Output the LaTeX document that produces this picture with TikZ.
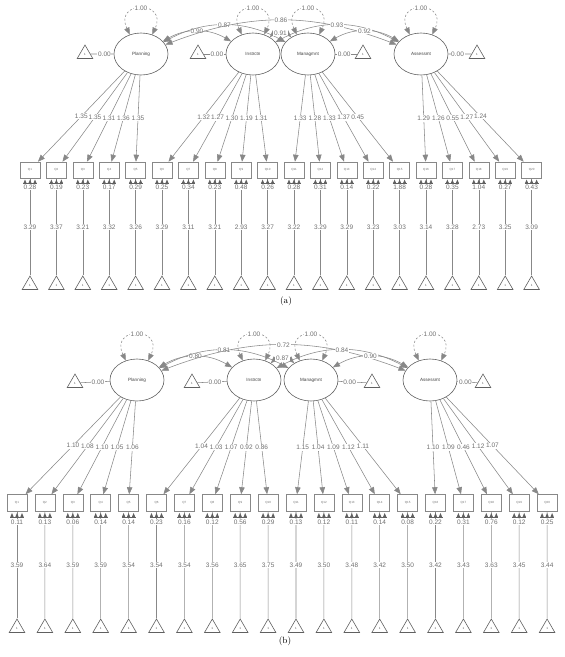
\documentclass[tikz,border=0pt]{standalone}
\usepackage{fontspec}
\newfontfamily\labfont{Liberation Sans}
\usetikzlibrary{shapes.geometric,arrows.meta}
\definecolor{ln}{HTML}{888888}
\definecolor{tx}{HTML}{707070}
\definecolor{bd}{HTML}{606060}
\tikzset{
 lat/.style={ellipse, draw=bd, line width=0.6pt, minimum width=54pt, minimum height=42pt, inner sep=0pt, text=black!75, font=\labfont\fontsize{4.6}{5}\selectfont},
 ind/.style={rectangle, draw=ln, line width=0.6pt, minimum width=20pt, minimum height=16pt, inner sep=0pt, text=tx, font=\labfont\fontsize{3}{3}\selectfont},
 one/.style={regular polygon, regular polygon sides=3, draw=bd, line width=0.6pt, minimum size=18pt, inner sep=0pt, text=black!70, font=\labfont\fontsize{3}{3}\selectfont},
 lab/.style={fill=white, inner sep=0.7pt, text=tx, font=\labfont\fontsize{6.5}{7}\selectfont},
 conn/.style={draw=ln, line width=0.55pt},
 load/.style={conn, -{Triangle[length=7pt,width=5.5pt]}},
 cov/.style={conn, {Triangle[length=7pt,width=5.5pt]}-{Triangle[length=7pt,width=5.5pt]}},
 vloop/.style={conn, dash pattern=on 2pt off 2pt, {Triangle[length=7pt,width=5.5pt]}-{Triangle[length=7pt,width=5.5pt]}},
 thr/.style={fill=bd},
 captxt/.style={font=\fontsize{9}{10}\selectfont}
}
\begin{document}
\begin{tikzpicture}[x=1pt,y=1pt]
\useasboundingbox (0,0) rectangle (565,-657);
% ================= panel (a) =================
\node[lat] (aP) at (141,-54) {Planning};
\node[lat] (aI) at (253,-54) {Instrctn};
\node[lat] (aM) at (308,-54) {Managmnt};
\node[lat] (aA) at (421,-54) {Assessmt};
\node[one] (atP) at (85,-54) {1};
\node[one] (atI) at (198,-54) {1};
\node[one] (atM) at (363,-54) {1};
\node[one] (atA) at (477,-54) {1};
\foreach \l in {P,I,M,A}{
  \draw[conn] (at\l) -- node[lab,pos=0.6]{0.00} (a\l);
  \draw[vloop] (a\l.120) .. controls +(115:38) and +(65:38) .. node[lab]{1.00} (a\l.60);
}
\draw[cov] (aP) to[bend left=30] node[lab]{0.90} (aI);
\draw[cov] (aP) to[bend left=28] node[lab]{0.87} (aM);
\draw[cov] (aP) to[bend left=21] node[lab]{0.86} (aA);
\draw[cov] (aI) to[bend left=45] node[lab]{0.91} (aM);
\draw[cov] (aI) to[bend left=28] node[lab]{0.93} (aA);
\draw[cov] (aM) to[bend left=30] node[lab]{0.92} (aA);
\foreach \i/\lat/\ld/\res/\mn in {
1/P/1.35/0.28/3.29, 2/P/1.35/0.19/3.37, 3/P/1.31/0.23/3.21, 4/P/1.36/0.17/3.32, 5/P/1.35/0.29/3.26,
6/I/1.32/0.25/3.29, 7/I/1.27/0.34/3.11, 8/I/1.30/0.23/3.21, 9/I/1.19/0.48/2.93, 10/I/1.31/0.26/3.27,
11/M/1.33/0.28/3.22, 12/M/1.28/0.31/3.29, 13/M/1.33/0.14/3.29, 14/M/1.37/0.22/3.23, 15/M/0.45/1.88/3.03,
16/A/1.29/0.28/3.14, 17/A/1.26/0.35/3.28, 18/A/0.55/1.04/2.73, 19/A/1.27/0.27/3.25, 20/A/1.24/0.43/3.09}{
  \pgfmathsetmacro\xx{30+26.4*(\i-1)}
  \node[ind] (a\i) at (\xx,-170) {Q\i};
  \node[one] (ta\i) at (\xx,-285) {1};
  \draw[load] (a\lat) -- node[lab]{\ld} (a\i);
  \draw[conn] (ta\i) -- node[lab]{\mn} (a\i);
  \begin{scope}[shift={(a\i.south)}]
    \foreach \d in {-5,0,5} \fill[thr] (\d-1.6,-5) -- (\d+1.6,-5) -- (\d,-1.2) -- cycle;
    \draw[bd, line width=0.4pt] (-7,-5) -- (7,-5);
  \end{scope}
  \node[lab] at ([yshift=-9pt]a\i.south) {\res};
}
\node[captxt] (capa) at (286,-301) {(a)};
% ================= panel (b) =================
\node[lat] (bP) at (137,-380) {Planning};
\node[lat] (bI) at (254,-380) {Instrctn};
\node[lat] (bM) at (311,-380) {Managmnt};
\node[lat] (bA) at (430,-380) {Assessmt};
\node[one] (btP) at (75,-383) {1};
\node[one] (btI) at (192,-383) {1};
\node[one] (btM) at (372,-383) {1};
\node[one] (btA) at (483,-383) {1};
\foreach \l in {P,I,M,A}{
  \draw[conn] (bt\l) -- node[lab,pos=0.6]{0.00} (b\l);
  \draw[vloop] (b\l.120) .. controls +(115:38) and +(65:38) .. node[lab]{1.00} (b\l.60);
}
\draw[cov] (bP) to[bend left=30] node[lab]{0.80} (bI);
\draw[cov] (bP) to[bend left=28] node[lab]{0.81} (bM);
\draw[cov] (bP) to[bend left=21] node[lab]{0.72} (bA);
\draw[cov] (bI) to[bend left=45] node[lab]{0.87} (bM);
\draw[cov] (bI) to[bend left=28] node[lab]{0.84} (bA);
\draw[cov] (bM) to[bend left=30] node[lab]{0.90} (bA);
\foreach \i/\lat/\ld/\res/\mn in {
1/P/1.10/0.11/3.59, 2/P/1.08/0.13/3.64, 3/P/1.10/0.06/3.59, 4/P/1.05/0.14/3.59, 5/P/1.06/0.14/3.54,
6/I/1.04/0.23/3.54, 7/I/1.03/0.16/3.54, 8/I/1.07/0.12/3.56, 9/I/0.92/0.56/3.65, 10/I/0.86/0.29/3.75,
11/M/1.15/0.13/3.49, 12/M/1.04/0.12/3.50, 13/M/1.09/0.11/3.48, 14/M/1.12/0.14/3.42, 15/M/1.11/0.08/3.50,
16/A/1.10/0.22/3.42, 17/A/1.09/0.31/3.43, 18/A/0.46/0.76/3.63, 19/A/1.12/0.12/3.45, 20/A/1.07/0.25/3.44}{
  \pgfmathsetmacro\xx{17+27.9*(\i-1)}
  \node[ind, minimum height=17pt] (b\i) at (\xx,-503) {Q\i};
  \node[one] (tb\i) at (\xx,-628) {1};
  \draw[load] (b\lat) -- node[lab]{\ld} (b\i);
  \draw[conn] (tb\i) -- node[lab]{\mn} (b\i);
  \begin{scope}[shift={(b\i.south)}]
    \foreach \d in {-5,0,5} \fill[thr] (\d-1.6,-5) -- (\d+1.6,-5) -- (\d,-1.2) -- cycle;
    \draw[bd, line width=0.4pt] (-7,-5) -- (7,-5);
  \end{scope}
  \node[lab] at ([yshift=-10pt]b\i.south) {\res};
}
\node[captxt] (capb) at (285,-641) {(b)};
\end{tikzpicture}
\end{document}
